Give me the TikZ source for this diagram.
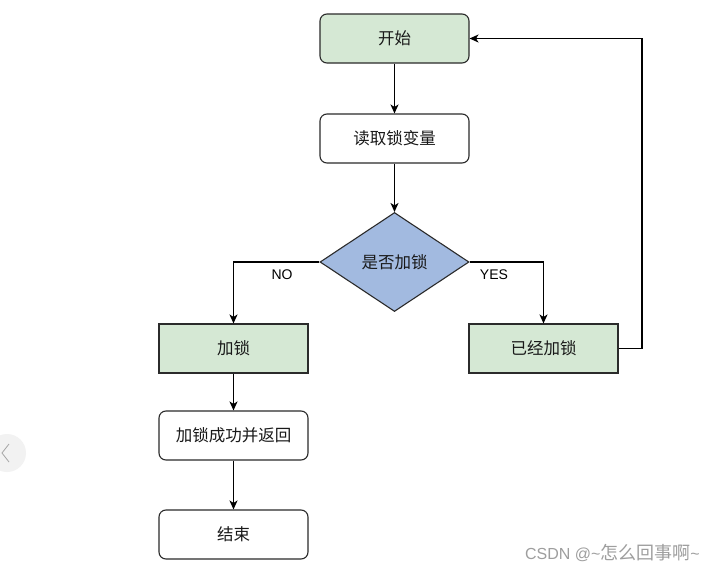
\documentclass[tikz,border=0pt]{standalone}
\usepackage{fontspec}
\setmainfont{Liberation Sans}
\newfontfamily\cjk{Noto Sans CJK SC}
\usetikzlibrary{shapes.geometric,arrows.meta}
\definecolor{boxgreen}{HTML}{D5E8D4}
\definecolor{diablue}{HTML}{A2BAE0}
\definecolor{edgegray}{HTML}{2B2B2B}
\begin{document}
\begin{tikzpicture}[x=1pt,y=-1pt,
  every node/.style={font=\cjk\fontsize{16.5}{19}\selectfont, text=black!90},
  roundbox/.style={draw=edgegray, line width=1.1pt, rounded corners=7pt, minimum width=149pt, minimum height=49pt, inner sep=0pt},
  sqbox/.style={draw=edgegray, line width=1.1pt, minimum width=149pt, minimum height=49pt, inner sep=0pt, fill=boxgreen},
  decision/.style={draw=edgegray, line width=1.1pt, diamond, aspect=1.5, fill=diablue, minimum width=149pt, minimum height=99pt, inner sep=0pt},
  flow/.style={draw=black, line width=1.1pt, -{Stealth[length=9pt,width=8pt,inset=2.5pt]}},
  lbl/.style={font=\fontsize{14}{16}\selectfont, text=black}
]
\useasboundingbox (0,0) rectangle (713,573);
\fill[white] (0,0) rectangle (713,573);

\node[roundbox, fill=boxgreen] (start) at (394.5,38.5) {开始};
\node[roundbox, fill=white] (read) at (394.5,138.5) {读取锁变量};
\node[decision] (dec) at (394.5,262) {是否加锁};
\node[sqbox] (lock) at (233.5,348.5) {加锁};
\node[sqbox] (locked) at (543.5,348.5) {已经加锁};
\node[roundbox, fill=white] (ret) at (233.5,435.5) {加锁成功并返回};
\node[roundbox, fill=white] (end) at (233.5,534.5) {结束};

\draw[flow] (start) -- (read);
\draw[flow] (read) -- (dec);
\draw[flow] (dec.west) -| (lock.north);
\draw[flow] (dec.east) -| (locked.north);
\draw[flow] (lock) -- (ret);
\draw[flow] (ret) -- (end);
\coordinate (loopA) at (642,348.5);
\coordinate (loopB) at (642,38.5);
\draw[flow] (locked.east) -- (loopA) -- (loopB) -- (start.east);

\node[lbl] (no) at (282,275) {NO};
\node[lbl] (yes) at (494,275) {YES};

% page artefacts
\fill[black!5] (7,453) circle (19);
\draw[black!35, line width=0.8pt] (9,444) -- (2,453) -- (9,462);
\node[font=\fontsize{16}{18}\selectfont, text=black!38, anchor=east, inner sep=0pt] (wm) at (700,553) {CSDN @\textasciitilde{\cjk\fontsize{18}{20}\selectfont 怎么回事啊}\textasciitilde};
\end{tikzpicture}
\end{document}
